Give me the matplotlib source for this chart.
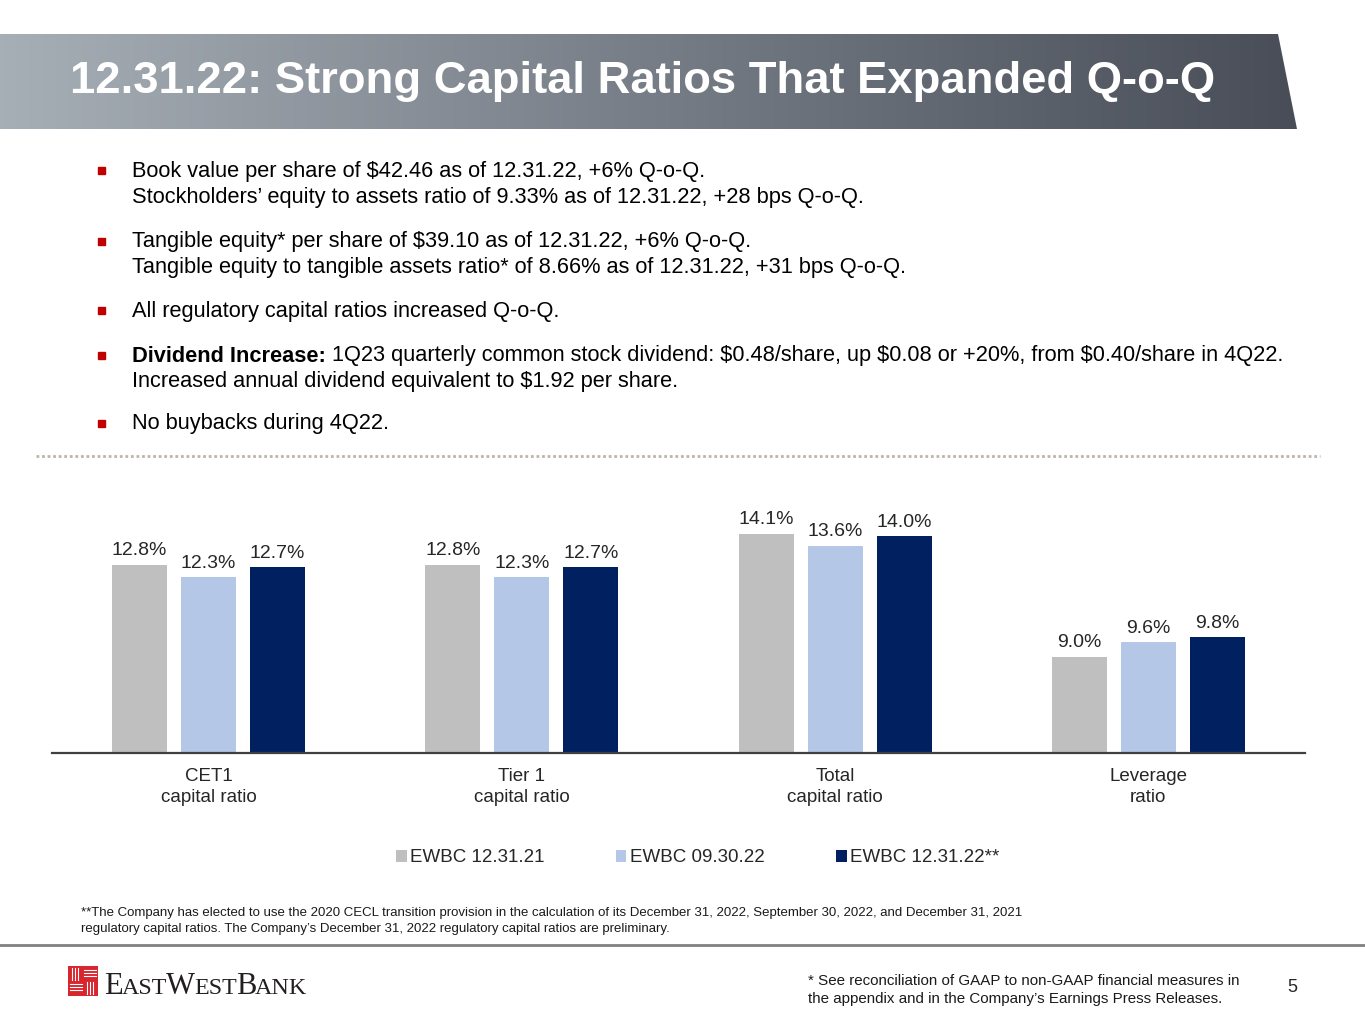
import matplotlib
matplotlib.use('Agg')
import matplotlib.pyplot as plt
import numpy as np
from matplotlib.patches import Polygon, Rectangle

plt.rcParams['font.family'] = ['Liberation Sans', 'DejaVu Sans']

# chart data
categories = ['CET1\ncapital ratio', 'Tier 1\ncapital ratio', 'Total\ncapital ratio', 'Leverage\nratio']
series_names = ['EWBC 12.31.21', 'EWBC 09.30.22', 'EWBC 12.31.22**']
ewbc_123121 = [12.8, 12.8, 14.1, 9.0]
ewbc_093022 = [12.3, 12.3, 13.6, 9.6]
ewbc_123122 = [12.7, 12.7, 14.0, 9.8]
bar_colors = ['#BFBFBF', '#B4C7E7', '#002060']

title = '12.31.22: Strong Capital Ratios That Expanded Q-o-Q'

# bullets: (bold lead-in, rest of first line, second line)
bullets = [
    ('', 'Book value per share of $42.46 as of 12.31.22, +6% Q-o-Q.',
     'Stockholders\u2019 equity to assets ratio of 9.33% as of 12.31.22, +28 bps Q-o-Q.'),
    ('', 'Tangible equity* per share of $39.10 as of 12.31.22, +6% Q-o-Q.',
     'Tangible equity to tangible assets ratio* of 8.66% as of 12.31.22, +31 bps Q-o-Q.'),
    ('', 'All regulatory capital ratios increased Q-o-Q.', ''),
    ('Dividend Increase:', ' 1Q23 quarterly common stock dividend: $0.48/share, up $0.08 or +20%, from $0.40/share in 4Q22.',
     'Increased annual dividend equivalent to $1.92 per share.'),
    ('', 'No buybacks during 4Q22.', ''),
]
bullet_y = [171, 242, 311, 356, 424]

footnote = ('**The Company has elected to use the 2020 CECL transition provision in the calculation of its December 31, 2022, September 30, 2022, and December 31, 2021\n'
            'regulatory capital ratios. The Company\u2019s December 31, 2022 regulatory capital ratios are preliminary.')
nongaap = ('* See reconciliation of GAAP to non-GAAP financial measures in\n'
           'the appendix and in the Company\u2019s Earnings Press Releases.')

W, H = 1365, 1024
fig = plt.figure(figsize=(W / 100, H / 100), dpi=100)

# background layer in pixel coords
bg = fig.add_axes([0, 0, 1, 1])
bg.set_xlim(0, W)
bg.set_ylim(H, 0)
bg.axis('off')

# title band with gradient
left_c = np.array([166, 174, 182]) / 255
right_c = np.array([72, 77, 87]) / 255
t = np.linspace(0, 1, 300)
grad = (left_c[None, :] * (1 - t[:, None]) + right_c[None, :] * t[:, None])[None, :, :]
im = bg.imshow(grad, extent=[0, 1297, 129, 34], aspect='auto', zorder=1)
band = Polygon([(0, 34), (1278, 34), (1297, 129), (0, 129)], closed=True,
               facecolor='none', edgecolor='none')
bg.add_patch(band)
im.set_clip_path(band)
bg.text(70, 82, title, color='white', fontsize=32.7, fontweight='bold',
        va='center', ha='left', zorder=2)

renderer = fig.canvas.get_renderer()

# bullets
fs_b = 15.7
for (bold, line1, line2), y in zip(bullets, bullet_y):
    bg.add_patch(Rectangle((97.5, y - 4), 7, 7, color='#C00000'))
    x = 132
    if bold:
        tb = bg.text(x, y, bold, fontsize=fs_b, fontweight='bold', va='center', ha='left')
        x += tb.get_window_extent(renderer).width
    bg.text(x, y, line1, fontsize=fs_b, va='center', ha='left')
    if line2:
        bg.text(132, y + 26, line2, fontsize=fs_b, va='center', ha='left')

# dotted separator
bg.plot([36, 1320], [456, 456], color='#BDB6A8', lw=2, linestyle=(0, (1, 1)))

# chart
ax = fig.add_axes([52 / W, (H - 753) / H, 1253 / W, 263 / H])
x = np.arange(len(categories))
bw = 55 / 313
step = 69 / 313
series = [ewbc_123121, ewbc_093022, ewbc_123122]
handles = []
for i, (vals, col) in enumerate(zip(series, bar_colors)):
    bars = ax.bar(x + (i - 1) * step, vals, width=bw, color=col, label=series_names[i])
    ax.bar_label(bars, labels=[f'{v:.1f}%' for v in vals], padding=4,
                 fontsize=14, color='#262626')
    handles.append(bars)
ax.set_xlim(-0.5, 3.5)
ax.set_ylim(5, 5 + 263 / 24.1)
ax.set_yticks([])
ax.set_xticks(x)
ax.set_xticklabels(categories, fontsize=13.5, color='#262626', linespacing=1.3)
ax.tick_params(axis='x', length=0, pad=11)
for s in ['top', 'left', 'right']:
    ax.spines[s].set_visible(False)
ax.spines['bottom'].set_color('#404040')
ax.spines['bottom'].set_linewidth(1.6)
ax.patch.set_alpha(0)

fig.legend(handles, series_names, loc='center', bbox_to_anchor=(698 / W, 1 - 858 / H),
           ncol=3, frameon=False, fontsize=13.5, handlelength=0.55, handleheight=0.55,
           handletextpad=0.2, columnspacing=3.8, labelcolor='#262626')

# footnote and rule
bg.text(81, 921, footnote, fontsize=9.5, va='center', ha='left', linespacing=1.35, color='#1a1a1a')
bg.plot([0, W], [945, 945], color='#808080', lw=2)

# logo
bg.add_patch(Rectangle((68, 966), 30, 30, facecolor='#D7262D', edgecolor='none'))
for k in range(3):
    bg.plot([72 + 3 * k, 72 + 3 * k], [968, 980], color='white', lw=0.8)
    bg.plot([84, 96], [970 + 3 * k, 970 + 3 * k], color='white', lw=0.8)
    bg.plot([70, 82], [984 + 3 * k, 984 + 3 * k], color='white', lw=0.8)
    bg.plot([87 + 3 * k, 87 + 3 * k], [982, 994], color='white', lw=0.8)

lx = 104
for piece, size in [('E', 22), ('AST', 17.3), ('W', 22), ('EST', 17.3), ('B', 22), ('ANK', 17.3)]:
    tt = bg.text(lx, 994, piece, fontsize=size, family='Liberation Serif',
                 va='baseline', ha='left', color='#231F20')
    lx += tt.get_window_extent(renderer).width - 1

bg.text(808, 990, nongaap, fontsize=10.9, va='center', ha='left', linespacing=1.3, color='#1a1a1a')
bg.text(1292, 987, '5', fontsize=13, va='center', ha='center', color='#262626')

fig.savefig('out.png', dpi=100)
